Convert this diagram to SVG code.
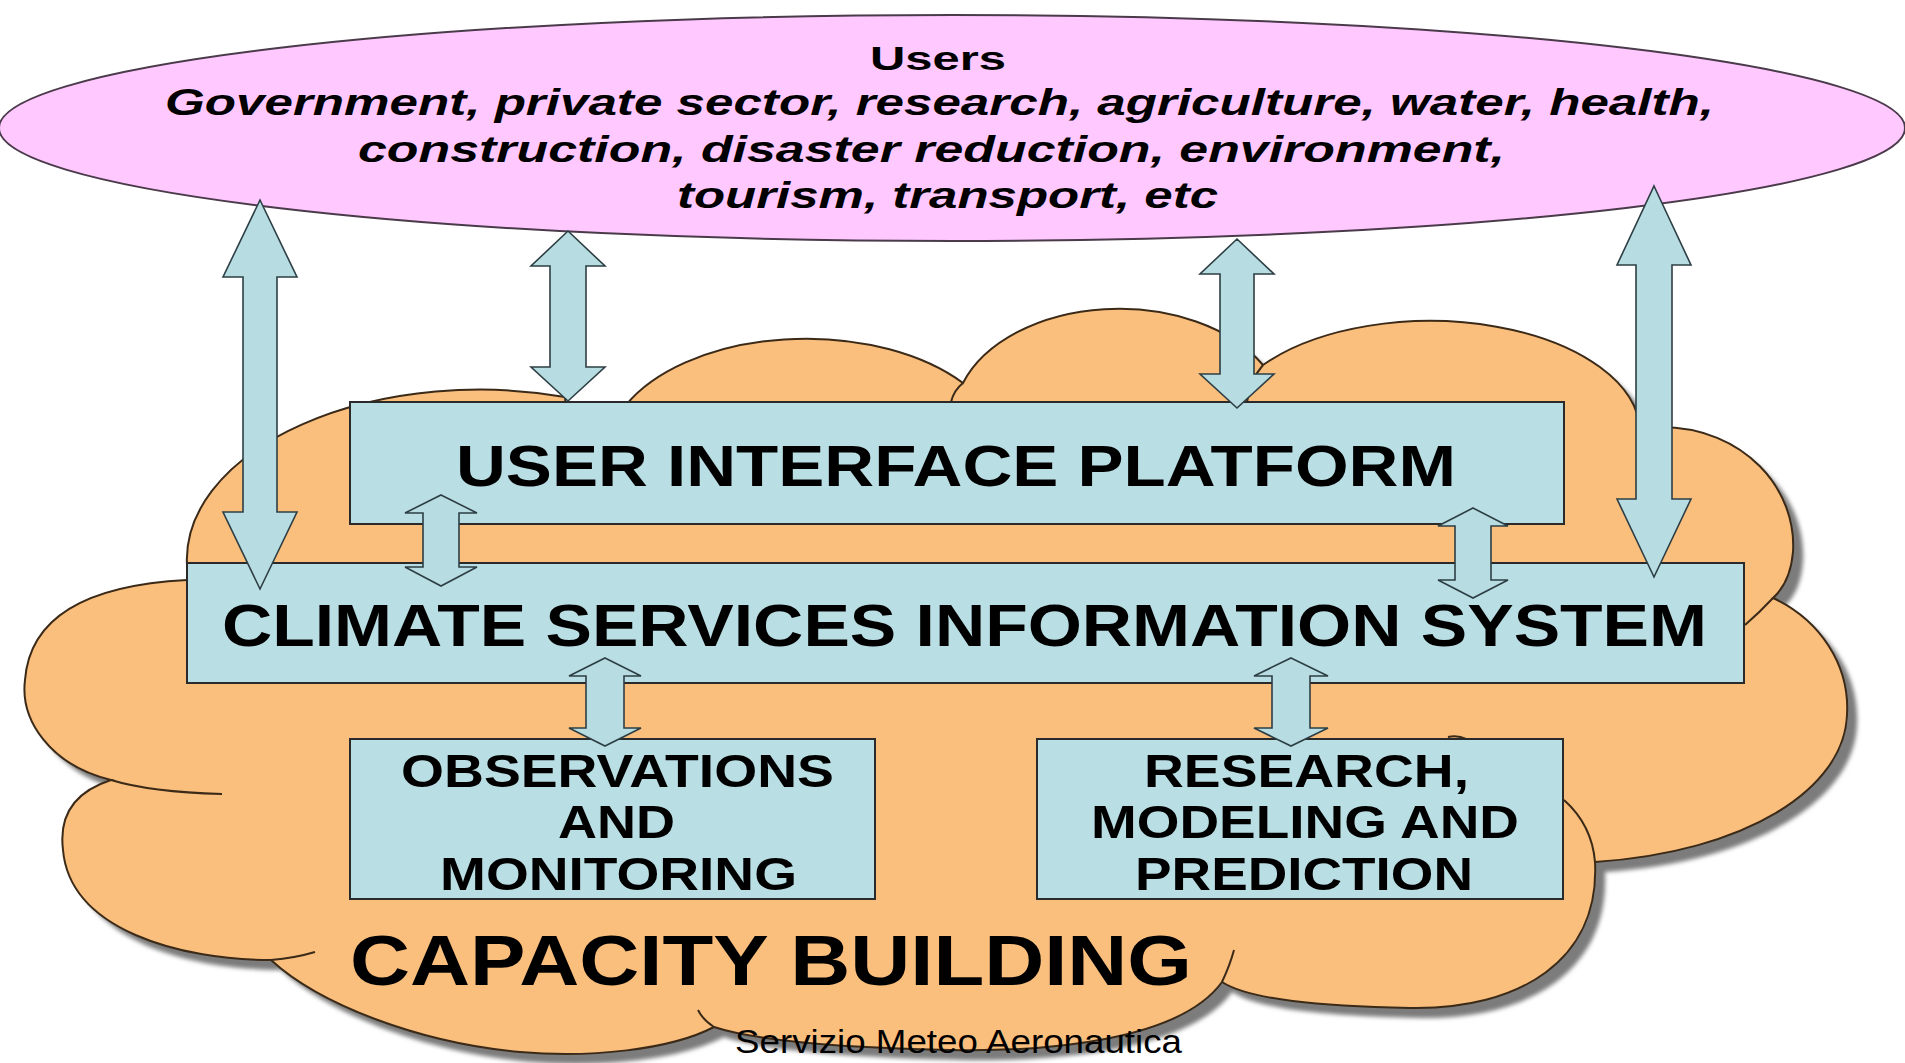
<svg xmlns="http://www.w3.org/2000/svg" width="1905" height="1063" viewBox="0 0 1905 1063">
<defs>
<style>
.cloud{fill:#FABE7D;stroke:#3b2a18;stroke-width:2}
.tail{fill:none;stroke:#3b2a18;stroke-width:2}
.box{fill:#B9DEE3;stroke:#2a2a2a;stroke-width:2}
.arr{fill:#B7DDE3;stroke:#2d3f44;stroke-width:1.6;stroke-linejoin:miter}
.bt{font-family:"Liberation Sans",Arial,sans-serif;font-weight:bold;fill:#000}
.ut{font-family:"Liberation Sans",Arial,sans-serif;font-weight:bold;font-style:italic;fill:#000;font-size:37px}
</style>
<filter id="blur" x="-5%" y="-5%" width="110%" height="110%"><feGaussianBlur stdDeviation="2"/></filter>
<path id="cloudPath" d="M200,600 L200,565 L187,565 A293,170 0 0 1 565,397 L566,412 L626,412 L626,405 A200,117 0 0 1 963,383 A165,110 0 0 1 1263,365 A210,112 0 0 1 1640,432 L1660,427 C1745,427 1797,490 1793,552 C1791,575 1784,588 1773,598 C1820,620 1850,665 1847,715 C1844,790 1745,852 1595,862 C1600,960 1520,1010 1410,1008 C1320,1006 1250,1000 1222,982 C1180,1040 1050,1052 950,1050 C850,1048 760,1042 714,1027 C670,1050 590,1058 520,1052 C420,1043 320,1005 271,960 C180,960 70,930 63,850 C58,810 80,790 111,780 C50,765 20,720 25,680 C30,615 90,585 187,580 L200,580 Z"/>
</defs>
<rect width="1905" height="1063" fill="#ffffff"/>

<g id="capacity-building">
<use href="#cloudPath" transform="translate(10,10)" fill="#7c7c7c" filter="url(#blur)"/>
<use href="#cloudPath" class="cloud"/>
<path class="tail" d="M963,383 Q954,390 951,402"/>
<path class="tail" d="M1263,365 Q1250,380 1247,402"/>
<path class="tail" d="M1773,598 Q1760,612 1745,625"/>
<path class="tail" d="M1595,862 Q1592,825 1564,800"/>
<path class="tail" d="M1448,737 Q1458,735 1466,739"/>
<path class="tail" d="M1222,982 Q1230,965 1234,950"/>
<path class="tail" d="M714,1027 Q703,1020 698,1010"/>
<path class="tail" d="M271,960 Q295,958 315,952"/>
<path class="tail" d="M111,780 Q150,792 222,794"/>
<text class="bt" x="350" y="985" font-size="71" textLength="842" lengthAdjust="spacingAndGlyphs">CAPACITY BUILDING</text>
</g>

<g id="users">
<ellipse cx="952" cy="128" rx="953" ry="113" fill="#FFC8FF" stroke="#4a3a4a" stroke-width="2"/>
<text class="bt" x="870" y="70" font-size="33" textLength="136" lengthAdjust="spacingAndGlyphs">Users</text>
<text class="ut" x="165" y="115" textLength="1549" lengthAdjust="spacingAndGlyphs">Government, private sector, research, agriculture, water, health,</text>
<text class="ut" x="358" y="162" textLength="1147" lengthAdjust="spacingAndGlyphs">construction, disaster reduction, environment,</text>
<text class="ut" x="677" y="208" textLength="541" lengthAdjust="spacingAndGlyphs">tourism, transport, etc</text>
</g>

<g id="user-interface-platform">
<rect class="box" x="350" y="402" width="1214" height="122"/>
<text class="bt" x="456" y="486" font-size="58" textLength="1000" lengthAdjust="spacingAndGlyphs">USER INTERFACE PLATFORM</text>
</g>

<g id="climate-services-information-system">
<rect class="box" x="187" y="563" width="1557" height="120"/>
<text class="bt" x="222" y="646" font-size="59" textLength="1485" lengthAdjust="spacingAndGlyphs">CLIMATE SERVICES INFORMATION SYSTEM</text>
</g>

<g id="observations-monitoring">
<rect class="box" x="350" y="739" width="525" height="160"/>
<text class="bt" x="401" y="787" font-size="47" textLength="433" lengthAdjust="spacingAndGlyphs">OBSERVATIONS</text>
<text class="bt" x="558" y="838" font-size="47" textLength="117" lengthAdjust="spacingAndGlyphs">AND</text>
<text class="bt" x="440" y="890" font-size="47" textLength="357" lengthAdjust="spacingAndGlyphs">MONITORING</text>
</g>

<g id="research-modeling-prediction">
<rect class="box" x="1037" y="739" width="526" height="160"/>
<text class="bt" x="1144" y="787" font-size="47" textLength="325" lengthAdjust="spacingAndGlyphs">RESEARCH,</text>
<text class="bt" x="1091" y="838" font-size="47" textLength="428" lengthAdjust="spacingAndGlyphs">MODELING AND</text>
<text class="bt" x="1135" y="890" font-size="47" textLength="338" lengthAdjust="spacingAndGlyphs">PREDICTION</text>
</g>

<g id="connectors">
<polygon class="arr" points="260,200 297,277 277,277 277,512 297,512 260,589 223,512 243,512 243,277 223,277"/>
<polygon class="arr" points="1654,186 1691,265 1672,265 1672,499 1691,499 1654,577 1617,499 1636,499 1636,265 1617,265"/>
<polygon class="arr" points="568,231 605,266 586,266 586,367 605,367 568,401 531,367 550,367 550,266 531,266"/>
<polygon class="arr" points="1237,239 1274,274 1254,274 1254,374 1274,374 1237,408 1200,374 1220,374 1220,274 1200,274"/>
<polygon class="arr" points="441,495 477,513 459,513 459,567 477,567 441,586 405,567 423,567 423,513 405,513"/>
<polygon class="arr" points="1473,508 1508,526 1491,526 1491,580 1508,580 1473,598 1438,580 1455,580 1455,526 1438,526"/>
<polygon class="arr" points="605,658 641,676 624,676 624,728 641,728 605,746 569,728 586,728 586,676 569,676"/>
<polygon class="arr" points="1291,658 1328,676 1310,676 1310,728 1328,728 1291,746 1254,728 1272,728 1272,676 1254,676"/>
</g>

<text x="735" y="1053" font-family="'Liberation Sans',Arial,sans-serif" font-size="33" fill="#000" textLength="447" lengthAdjust="spacingAndGlyphs">Servizio Meteo Aeronautica</text>
</svg>
